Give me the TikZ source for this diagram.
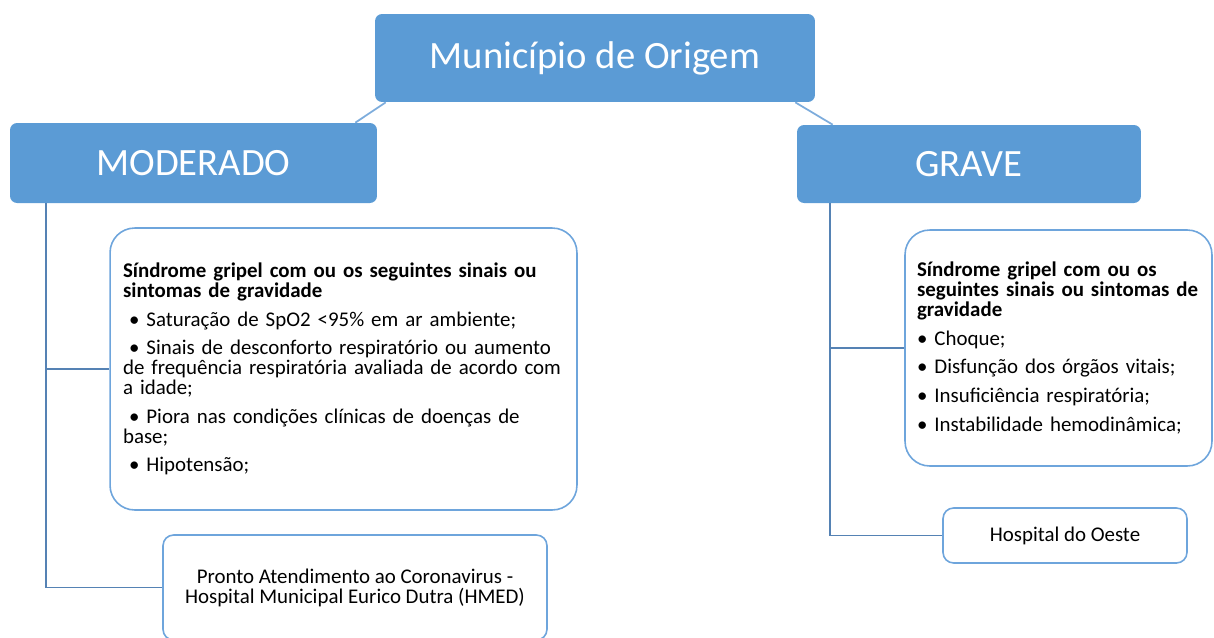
\documentclass[tikz,border=0pt]{standalone}
\usepackage{fontspec}
\setmainfont{Carlito}
\usepackage{xcolor}
\definecolor{boxblue}{RGB}{91, 155, 213}
\definecolor{edgeblue}{RGB}{110, 165, 220}
\definecolor{lineblue}{RGB}{125, 172, 220}
\definecolor{treeblue}{RGB}{85, 130, 180}
\usepackage{tikz}
\usetikzlibrary{positioning, calc}
\tikzstyle{head} = [rectangle, fill=boxblue, text=white, rounded corners=4pt, inner sep=0pt, font=\fontsize{22}{26}\selectfont]
\tikzstyle{card} = [rectangle, draw=edgeblue, fill=white, line width=0.9pt, rounded corners=14pt, align=left, inner ysep=0pt, font=\fontsize{11.9}{11.3}\selectfont]
\tikzstyle{place} = [rectangle, draw=edgeblue, fill=white, line width=0.9pt, rounded corners=6pt, align=center, inner sep=0pt, font=\fontsize{11.9}{11.3}\selectfont]
\tikzstyle{link} = [draw=lineblue, line width=1pt]
\tikzstyle{tree} = [draw=treeblue, line width=1.1pt]

\begin{document}
\begin{tikzpicture}[x=0.02cm, y=-0.02cm]
    \useasboundingbox (0,0) rectangle (1214,637);

    % heads
    \node[head, minimum width=8.8cm, minimum height=1.76cm] (origem) at (595,58) {Município de Origem};
    \node[head, minimum width=7.34cm, minimum height=1.6cm] (moderado) at (193.5,163) {MODERADO};
    \node[head, minimum width=6.88cm, minimum height=1.56cm] (grave) at (969,164) {GRAVE};

    % sign boxes
    \node[card, minimum height=5.64cm, text width=8.82cm, inner xsep=0.26cm] (sinaisM) at (343.5,369) {%
        \textbf{Síndrome gripel  com ou os seguintes sinais ou}\\
        \textbf{sintomas de gravidade}\\[5pt]
        \hspace{0.12cm}\textbullet\ Saturação  de SpO2 <95\% em ar ambiente;\\[5pt]
        \hspace{0.12cm}\textbullet\ Sinais de desconforto respiratório  ou aumento\\
        de frequência respiratória avaliada  de acordo com\\
        a idade;\\[5pt]
        \hspace{0.12cm}\textbullet\ Piora nas condições clínicas de doenças de\\
        base;\\[5pt]
        \hspace{0.12cm}\textbullet\ Hipotensão;};
    \node[card, minimum height=4.72cm, text width=5.66cm, inner xsep=0.24cm] (sinaisG) at (1058.5,348) {%
        \textbf{Síndrome gripel  com ou os}\\
        \textbf{seguintes sinais ou sintomas de}\\
        \textbf{gravidade}\\[5pt]
        \textbullet\ Choque;\\[5pt]
        \textbullet\ Disfunção dos órgãos vitais;\\[5pt]
        \textbullet\ Insuficiência respiratória;\\[5pt]
        \textbullet\ Instabilidade hemodinâmica;};

    % hospitals
    \node[place, minimum width=7.68cm, minimum height=2.1cm] (pronto) at (355,587.5) {Pronto Atendimento  ao Coronavirus -\\Hospital Municipal Eurico Dutra (HMED)};
    \node[place, minimum width=4.88cm, minimum height=1.1cm] (oeste) at (1065,535.5) {Hospital do Oeste};

    \draw[link] ([xshift=0.22cm]origem.south west) -- ([xshift=-0.44cm]moderado.north east);
    \draw[link] ([xshift=-0.4cm]origem.south east) -- ([xshift=0.72cm]grave.north west);
    \draw[tree] ([xshift=0.72cm]moderado.south west) |- (sinaisM.west);
    \draw[tree] ([xshift=0.72cm]moderado.south west) |- (pronto.west);
    \draw[tree] ([xshift=0.66cm]grave.south west) |- (sinaisG.west);
    \draw[tree] ([xshift=0.66cm]grave.south west) |- (oeste.west);
\end{tikzpicture}
\end{document}
